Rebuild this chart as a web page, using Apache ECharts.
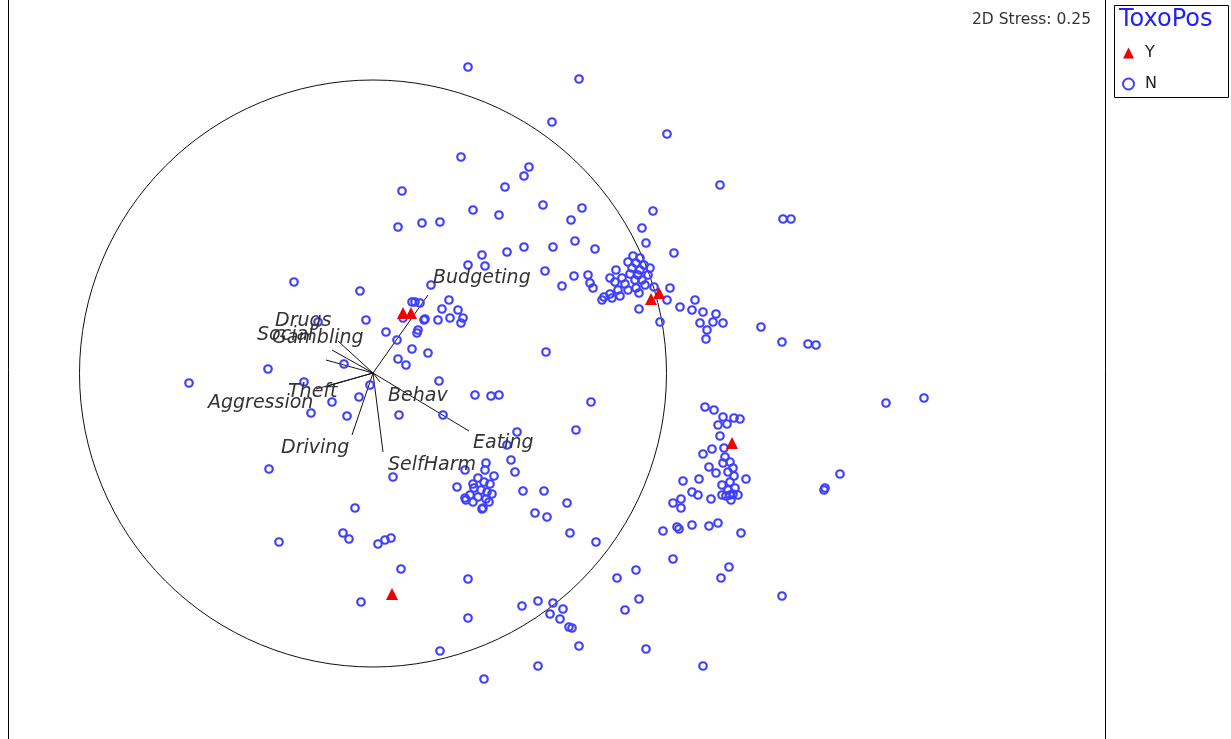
<!DOCTYPE html>
<html>
<head>
<meta charset="utf-8">
<script src="https://cdn.jsdelivr.net/npm/echarts@6/dist/echarts.min.js"></script>
<style>
  html, body { margin: 0; padding: 0; background: #fff; }
  #chart { width: 1231px; height: 739px; }
</style>
</head>
<body>
<div id="chart"></div>
<script>
// ordination scores (plot units)
const pointsN = [
  [468,67],[579,79],[552,122],[667,134],[461,157],[529,167],[524,176],[720,185],[505,187],[402,191],
  [543,205],[582,208],[473,210],[653,211],[499,215],[571,220],[422,223],[440,222],[398,227],[642,228],
  [575,241],[646,243],[524,247],[553,247],[595,249],[507,252],[674,253],[482,255],[468,265],[485,266],
  [545,271],[783,219],[791,219],
  [431,285],[562,286],[294,282],[360,291],[415,302],[449,300],[442,309],[458,310],[424,320],[438,320],
  [450,318],[463,318],[461,323],[366,320],[318,322],[386,332],[418,330],[417,333],[397,340],[412,349],
  [428,353],[398,359],[406,365],[344,364],[268,369],[189,383],[304,382],[370,385],[359,397],[332,402],
  [311,413],[347,416],[546,352],[439,381],[475,395],[491,396],[499,395],[399,415],[443,415],[517,432],
  [507,445],[511,460],[515,472],[486,463],[393,477],[269,469],
  [412,302],[420,303],[425,319],[403,318],
  [574,276],[588,275],[590,283],[593,288],[602,300],[610,278],[639,293],[639,309],[654,287],[667,300],
  [670,288],[660,322],[680,307],[695,300],[692,310],[703,312],[700,323],[707,330],[706,339],[716,314],
  [713,322],[723,323],[761,327],[782,342],[808,344],[816,345],[886,403],[924,398],
  [628,262],[632,268],[636,263],[640,270],[644,265],[638,275],[630,274],[622,278],[615,282],[625,284],
  [618,290],[610,294],[604,297],[612,298],[620,296],[635,280],[642,280],[648,275],[650,268],[633,256],
  [640,258],[645,285],[628,290],[636,288],[616,270],
  [591,402],[576,430],[705,407],[714,410],[723,417],[734,418],[740,419],[718,425],[727,424],[720,436],
  [724,448],[712,449],[703,454],[725,457],[723,463],[709,467],[716,473],[699,479],[683,481],[746,479],
  [840,474],[825,488],[730,462],[733,468],[728,472],[734,476],[730,482],[735,488],[728,490],[733,494],
  [726,496],[738,495],[731,500],[722,485],
  [465,470],[485,470],[478,478],[484,482],[490,484],[474,488],[481,490],[487,492],[470,495],[478,497],
  [486,499],[492,494],[466,500],[483,508],[473,484],[494,476],[457,487],
  [465,498],[473,502],[482,509],[489,502],[523,491],[544,491],[567,503],[535,513],[547,517],[570,533],
  [378,544],[385,540],[391,538],[401,569],[468,579],[522,606],[538,601],[553,603],[550,614],[563,609],
  [560,619],[468,618],[440,651],[538,666],[484,679],[569,627],[355,508],[343,533],[349,539],[279,542],
  [361,602],[596,542],[673,503],[681,499],[681,508],[692,492],[698,495],[711,499],[722,495],[730,495],
  [663,531],[677,527],[679,529],[692,525],[709,526],[718,523],[741,533],[673,559],[636,570],[617,578],
  [729,567],[721,578],[639,599],[625,610],[572,628],[579,646],[646,649],[703,666],[824,490],[782,596]
]
const pointsY = [[403,313],[411,313],[651,299],[659,293],[732,443],[392,594]]

// correlation circle and vectors
const circle = [[373, 373.5, 293.5]]
const vecOrigin = [373, 373]
const vecNames = ['Budgeting','Eating','SelfHarm','Behav','Driving','Theft','Aggression','Drugs','Gambling','Social']
const vecX = [428, 469, 383, 380, 352, 328, 316, 332, 338, 326]
const vecY = [295, 431, 452, 382, 435, 386, 389, 350, 341, 360]
const labelX = [433, 473, 388, 388, 281, 288, 208, 275, 272, 257]
const labelY = [278, 443, 465, 396, 448, 392, 403, 321, 338, 335]

const chart = echarts.init(document.getElementById('chart'))

const vecLines = vecNames.map((n, i) => ({ coords: [vecOrigin, [vecX[i], vecY[i]]] }))
const vecLabels = vecNames.map((n, i) => [labelX[i], labelY[i], n])

const option = {
  animation: false,
  grid: { left: 0, right: 0, top: 0, bottom: 0 },
  xAxis: { type: 'value', min: 0, max: 1231, show: false },
  yAxis: { type: 'value', min: 0, max: 739, inverse: true, show: false },
  legend: {
    orient: 'vertical',
    left: 1122,
    top: 45,
    padding: 0,
    itemWidth: 11,
    itemHeight: 11,
    itemGap: 15,
    textStyle: { fontFamily: 'DejaVu Sans', fontSize: 16, color: '#222', padding: [0, 0, 0, 6] },
    data: [
      { name: 'Y', icon: 'triangle', itemStyle: { color: '#f00000', opacity: 1 } },
      { name: 'N', icon: 'circle',
        itemStyle: { color: '#fff', borderColor: '#3f3fff', borderWidth: 2, opacity: 1 } }
    ]
  },
  graphic: [
    { type: 'rect', shape: { x: 8.5, y: -2, width: 1097, height: 760 },
      style: { fill: null, stroke: '#000', lineWidth: 1 } },
    { type: 'rect', shape: { x: 1114.5, y: 5.5, width: 114, height: 92 },
      style: { fill: null, stroke: '#000', lineWidth: 1 } },
    { type: 'text', left: 1119, top: 8,
      style: { text: 'ToxoPos', fill: '#1f1fff', font: '24px "DejaVu Sans"' } },
    { type: 'text', left: 972, top: 12,
      style: { text: '2D Stress: 0.25', fill: '#333', font: '15.5px "DejaVu Sans"' } }
  ],
  series: [
    {
      type: 'custom',
      silent: true,
      renderItem: function (params, api) {
        const c = api.coord([api.value(0), api.value(1)])
        const r = api.size([api.value(2), 0])[0]
        return { type: 'circle', shape: { cx: c[0], cy: c[1], r: r },
          style: { fill: null, stroke: '#111', lineWidth: 1 } }
      },
      data: circle,
      z: 1
    },
    {
      type: 'lines',
      coordinateSystem: 'cartesian2d',
      silent: true,
      lineStyle: { color: '#111', width: 1, opacity: 1 },
      data: vecLines,
      z: 2
    },
    {
      name: 'N',
      type: 'scatter',
      symbol: 'circle',
      symbolSize: 7.5,
      itemStyle: { color: 'rgba(255,255,255,0)', borderColor: '#3f3fff', borderWidth: 2.2, opacity: 1 },
      data: pointsN,
      z: 3
    },
    {
      name: 'Y',
      type: 'scatter',
      symbol: 'triangle',
      symbolSize: 12,
      itemStyle: { color: '#f00000', opacity: 1 },
      data: pointsY,
      z: 4
    },
    {
      type: 'custom',
      silent: true,
      renderItem: function (params, api) {
        const c = api.coord([api.value(0), api.value(1)])
        return { type: 'text', x: c[0], y: c[1],
          style: { text: vecLabels[params.dataIndex][2], fill: '#333',
            font: 'italic 19px "DejaVu Sans"', textVerticalAlign: 'middle', textAlign: 'left' } }
      },
      data: vecLabels,
      z: 5
    }
  ]
}
chart.setOption(option)
window.addEventListener('resize', function () { chart.resize() })
</script>
</body>
</html>
